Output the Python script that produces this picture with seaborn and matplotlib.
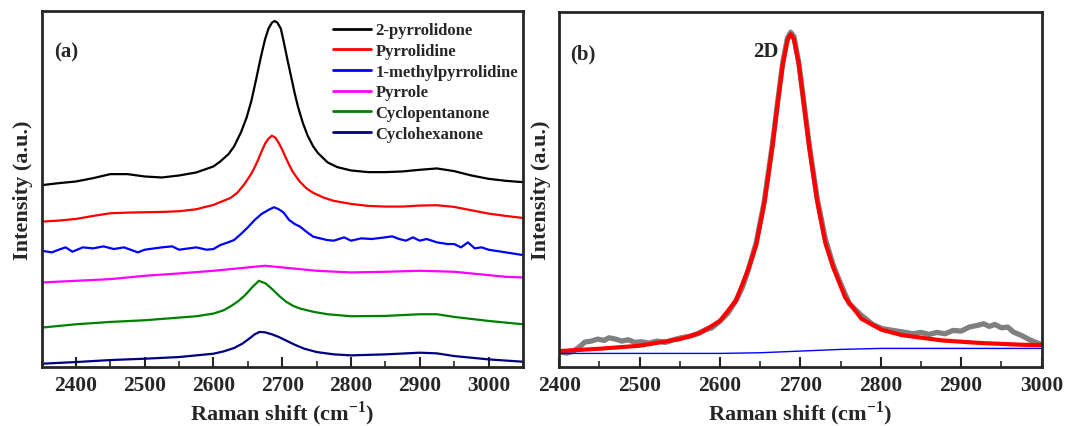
import matplotlib
matplotlib.use("Agg")
import matplotlib.pyplot as plt
import seaborn as sns
from matplotlib.ticker import MultipleLocator

# ---- panel (a): offset Raman spectra (intensity in arbitrary units)
x_pyrrolidone = [2350, 2375, 2400, 2425, 2450, 2475, 2500, 2525, 2550, 2575, 2600, 2610, 2622, 2630,
                 2640, 2648, 2655, 2662, 2669, 2675, 2680, 2685, 2689, 2693, 2698, 2703, 2708, 2713,
                 2718, 2723, 2730, 2737, 2745, 2752, 2766, 2780, 2800, 2825, 2850, 2875, 2900, 2925,
                 2950, 2975, 3000, 3025, 3050]
y_pyrrolidone = [544, 550, 555, 565, 577, 577, 570, 567, 573, 582, 600, 615, 637, 660,
                 702, 745, 795, 860, 928, 980, 1012, 1030, 1035, 1030, 1012, 965, 915, 868,
                 820, 778, 730, 692, 660, 640, 612, 598, 588, 583, 583, 585, 590, 594,
                 586, 573, 563, 557, 553]

x_pyrrolidine = [2350, 2375, 2400, 2425, 2450, 2475, 2500, 2525, 2550, 2575, 2600, 2625, 2635, 2645,
                 2655, 2660, 2665, 2670, 2675, 2680, 2685, 2690, 2695, 2700, 2705, 2710, 2715, 2725,
                 2735, 2745, 2760, 2775, 2800, 2825, 2850, 2875, 2900, 2925, 2950, 2975, 3000, 3025,
                 3050]
y_pyrrolidine = [435, 438, 443, 452, 460, 462, 463, 464, 466, 472, 485, 506, 522, 547,
                 578, 598, 620, 645, 668, 683, 692, 686, 670, 650, 627, 605, 585, 556,
                 535, 521, 507, 497, 488, 482, 480, 480, 483, 484, 479, 469, 459, 452,
                 446]

x_methyl = [2350, 2365, 2375, 2385, 2395, 2410, 2425, 2440, 2455, 2470, 2490, 2500, 2525, 2540,
            2550, 2575, 2590, 2600, 2610, 2620, 2630, 2640, 2650, 2660, 2670, 2680, 2688, 2695,
            2702, 2710, 2718, 2726, 2735, 2745, 2755, 2765, 2775, 2790, 2800, 2815, 2830, 2850,
            2860, 2870, 2880, 2890, 2900, 2910, 2925, 2940, 2950, 2960, 2970, 2980, 2990, 3000,
            3025, 3050]
y_methyl = [348, 343, 351, 358, 345, 358, 355, 361, 353, 358, 343, 351, 358, 361,
            351, 358, 351, 353, 365, 372, 380, 398, 418, 440, 458, 470, 478, 472,
            462, 440, 428, 420, 405, 390, 385, 380, 378, 388, 378, 385, 383, 388,
            391, 383, 378, 388, 378, 383, 373, 368, 368, 358, 373, 355, 358, 351,
            343, 335]

x_pyrrole = [2350, 2400, 2450, 2500, 2550, 2600, 2650, 2675, 2700, 2750, 2800, 2850, 2900, 2950,
             3000, 3025, 3050]
y_pyrrole = [253, 258, 263, 273, 280, 288, 298, 303, 298, 288, 283, 285, 288, 285,
             275, 270, 268]

x_cyclopent = [2350, 2400, 2450, 2500, 2550, 2575, 2600, 2615, 2626, 2636, 2646, 2656, 2666, 2676,
               2686, 2696, 2706, 2716, 2726, 2746, 2766, 2800, 2850, 2900, 2925, 2950, 3000, 3050]
y_cyclopent = [118, 128, 135, 140, 148, 152, 160, 170, 183, 197, 215, 238, 258, 250,
               232, 212, 195, 183, 175, 165, 158, 152, 153, 158, 158, 150, 138, 128]

x_cyclohex = [2350, 2400, 2450, 2500, 2550, 2600, 2615, 2630, 2642, 2652, 2660, 2667, 2675, 2685,
              2695, 2705, 2718, 2732, 2750, 2775, 2800, 2850, 2900, 2925, 2950, 3000, 3050]
y_cyclohex = [10, 15, 21, 25, 30, 40, 47, 57, 70, 85, 98, 105, 104, 98,
              90, 80, 67, 55, 45, 38, 35, 38, 43, 41, 33, 23, 16]

labels_a = ["2-pyrrolidone", "Pyrrolidine", "1-methylpyrrolidine", "Pyrrole",
            "Cyclopentanone", "Cyclohexanone"]
colors_a = ["black", "#ff0000", "#0000ff", "#ff00ff", "#008000", "#000080"]

# ---- panel (b): 2D band with Lorentzian fit and baseline
x_meas = [2400, 2410, 2418, 2425, 2432, 2440, 2448, 2456, 2462, 2470, 2478, 2486, 2494, 2502,
          2512, 2522, 2532, 2542, 2552, 2562, 2572, 2582, 2590, 2600, 2610, 2620, 2628, 2635,
          2645, 2655, 2665, 2672, 2678, 2684, 2688, 2692, 2698, 2704, 2711, 2721, 2731, 2741,
          2751, 2761, 2776, 2790, 2801, 2815, 2826, 2840, 2850, 2860, 2870, 2880, 2890, 2900,
          2910, 2920, 2928, 2935, 2942, 2950, 2958, 2965, 2975, 2985, 2992, 3000]
y_meas = [45, 42, 48, 60, 75, 78, 84, 80, 88, 84, 78, 82, 74, 76,
          72, 78, 74, 82, 88, 92, 100, 112, 118, 138, 162, 200, 240, 290,
          372, 495, 665, 800, 912, 988, 1005, 992, 915, 800, 668, 505, 385, 305,
          245, 190, 155, 128, 116, 110, 106, 100, 104, 98, 104, 100, 110, 108,
          120, 125, 130, 122, 128, 118, 120, 105, 95, 82, 75, 68]

x_fit = [2400, 2450, 2500, 2550, 2575, 2600, 2620, 2635, 2645, 2655, 2665, 2672, 2678, 2684,
         2688, 2692, 2698, 2704, 2711, 2721, 2731, 2741, 2756, 2776, 2801, 2826, 2876, 2926,
         2976, 3000]
y_fit = [48, 55, 64, 84, 102, 138, 200, 292, 366, 490, 657, 795, 907, 982,
         999, 984, 910, 798, 661, 497, 373, 298, 208, 145, 112, 96, 80, 72,
         67, 66]

x_base = [2400, 2600, 2650, 2700, 2750, 2800, 2900, 3000]
y_base = [41, 41, 43, 48, 53, 56, 56, 56]

sns.set_style("ticks")
plt.rcParams["font.family"] = ["Liberation Serif", "DejaVu Serif"]
plt.rcParams["font.weight"] = "bold"
plt.rcParams["axes.labelweight"] = "bold"
plt.rcParams["mathtext.fontset"] = "custom"
plt.rcParams["mathtext.rm"] = "Liberation Serif:bold"
plt.rcParams["mathtext.bf"] = "Liberation Serif:bold"

fig = plt.figure(figsize=(10.65, 4.27), dpi=100)
ax1 = fig.add_axes([0.039, 0.138, 0.452, 0.834])
ax2 = fig.add_axes([0.525, 0.138, 0.453, 0.831])

series_a = [(x_pyrrolidone, y_pyrrolidone), (x_pyrrolidine, y_pyrrolidine), (x_methyl, y_methyl),
            (x_pyrrole, y_pyrrole), (x_cyclopent, y_cyclopent), (x_cyclohex, y_cyclohex)]
for (xs, ys), lab, col in zip(series_a, labels_a, colors_a):
    sns.lineplot(x=xs, y=ys, ax=ax1, color=col, lw=1.6, label=lab)

sns.lineplot(x=x_meas, y=y_meas, ax=ax2, color="#808080", lw=3.8)
sns.lineplot(x=x_fit, y=y_fit, ax=ax2, color="#ff0000", lw=3.0)
sns.lineplot(x=x_base, y=y_base, ax=ax2, color="#0000ff", lw=1.0)

ax1.set_xlim(2350, 3050)
ax2.set_xlim(2400, 3000)
for ax in (ax1, ax2):
    ax.set_ylim(0, 1065)
    ax.set_yticks([])
    ax.xaxis.set_major_locator(MultipleLocator(100))
    ax.xaxis.set_minor_locator(MultipleLocator(50))
    ax.tick_params(axis="x", which="major", direction="in", length=7, width=1.5,
                   labelsize=15.5, pad=6)
    ax.tick_params(axis="x", which="minor", direction="in", length=4, width=1.2)
    for sp in ax.spines.values():
        sp.set_linewidth(2)
        sp.set_visible(True)
    for t in ax.get_xticklabels():
        t.set_fontweight("bold")
    ax.set_xlabel(r"Raman shift (cm$^{\mathbf{-1}}$)", fontsize=16, fontweight="bold", labelpad=2)
    ax.set_ylabel("Intensity (a.u.)", fontsize=16, fontweight="bold", labelpad=6)

ax1.text(0.027, 0.885, "(a)", transform=ax1.transAxes, fontsize=15, fontweight="bold",
         va="center", ha="left")
ax2.text(0.023, 0.885, "(b)", transform=ax2.transAxes, fontsize=15, fontweight="bold",
         va="center", ha="left")
ax2.text(2657, 948, "2D", fontsize=15, fontweight="bold", va="center", ha="center")

leg = ax1.legend(loc="upper right", bbox_to_anchor=(0.99, 0.968), frameon=False,
                 handlelength=2.3, labelspacing=0.28, handletextpad=0.25,
                 borderaxespad=0, borderpad=0,
                 prop={"family": "Liberation Serif", "weight": "bold", "size": 12})
for h in leg.get_lines():
    h.set_linewidth(2)

fig.savefig("out.png", dpi=100)
